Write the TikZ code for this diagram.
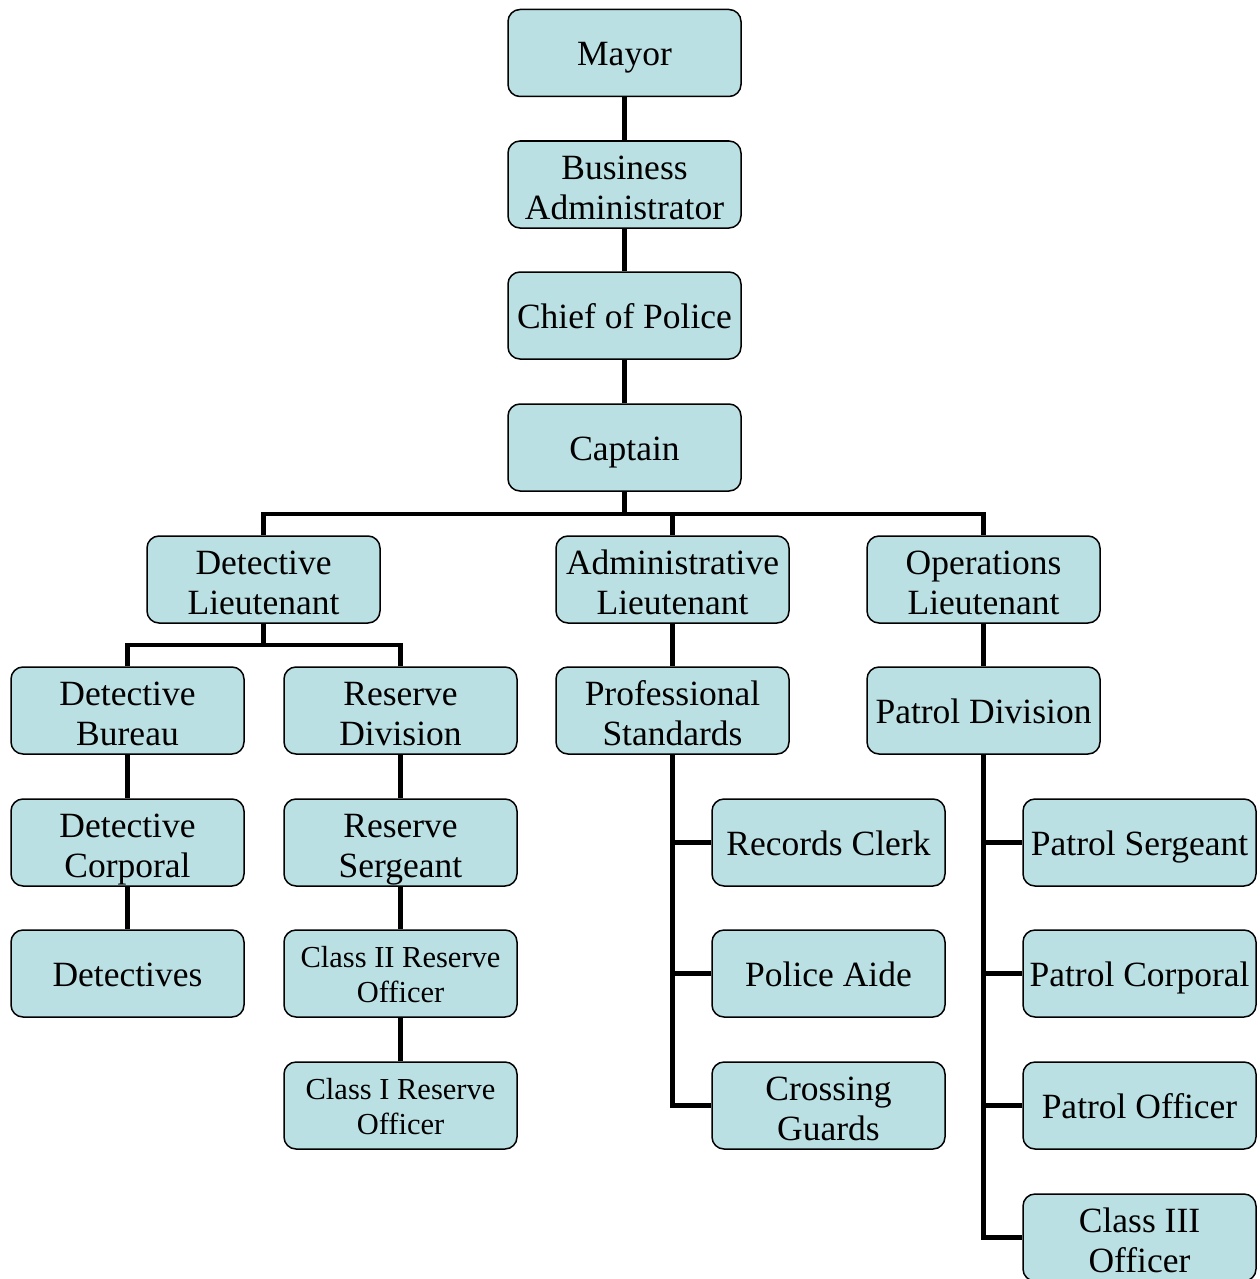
\documentclass[tikz,border=0pt]{standalone}
\usepackage{fontspec}
\setmainfont{Liberation Serif}
\definecolor{boxfill}{RGB}{187,224,227}
\begin{document}
\begin{tikzpicture}[x=1pt,y=-1pt,
  box/.style={draw=black,line width=1.5pt,fill=boxfill,rounded corners=12pt,
    minimum width=233pt,minimum height=87pt,inner sep=0pt,align=center,
    font=\fontsize{35.5}{40}\selectfont,text height=34pt,text depth=9pt},
  box2/.style={box,text height=78pt},
  smallbox/.style={box,font=\fontsize{30.5}{35}\selectfont,text height=66pt},
  conn/.style={line width=4.5pt,draw=black}]
\useasboundingbox (0,0) rectangle (1260,1279);
\fill[white] (0,0) rectangle (1260,1279);
% column 1
\node[box] (mayor) at (624.5,53) {Mayor};
\node[box2] (ba) at (624.5,184.5) {Business\\Administrator};
\node[box] (chief) at (624.5,315.5) {Chief of Police};
\node[box] (cap) at (624.5,447.5) {Captain};
% row 2
\node[box2] (dlt) at (263.5,579.5) {Detective\\Lieutenant};
\node[box2] (alt) at (672.5,579.5) {Administrative\\Lieutenant};
\node[box2] (olt) at (983.5,579.5) {Operations\\Lieutenant};
% row 3
\node[box2] (db) at (127.5,710.5) {Detective\\Bureau};
\node[box2] (rd) at (400.5,710.5) {Reserve\\Division};
\node[box2] (ps) at (672.5,710.5) {Professional\\Standards};
\node[box] (pd) at (983.5,710.5) {Patrol Division};
% row 4
\node[box2] (dc) at (127.5,842.5) {Detective\\Corporal};
\node[box2] (rs) at (400.5,842.5) {Reserve\\Sergeant};
\node[box] (rc) at (828.5,842.5) {Records Clerk};
\node[box] (psg) at (1139.5,842.5) {Patrol Sergeant};
% row 5
\node[box] (det) at (127.5,973.5) {Detectives};
\node[smallbox] (c2) at (400.5,973.5) {Class II Reserve\\Officer};
\node[box] (pa) at (828.5,973.5) {Police Aide};
\node[box] (pc) at (1139.5,973.5) {Patrol Corporal};
% row 6
\node[smallbox] (c1) at (400.5,1105.5) {Class I Reserve\\Officer};
\node[box2] (cg) at (828.5,1105.5) {Crossing\\Guards};
\node[box] (po) at (1139.5,1105.5) {Patrol Officer};
% row 7
\node[box2] (c3) at (1139.5,1237.5) {Class III\\Officer};
% connectors
\coordinate (b1) at (624.5,514);
\coordinate (b2) at (263.5,645);
\draw[conn] (mayor) -- (ba);
\draw[conn] (ba) -- (chief);
\draw[conn] (chief) -- (cap);
\draw[conn] (cap) -- (b1);
\draw[conn] (dlt.north) |- (b1) -| (olt.north);
\draw[conn] (b1) -| (alt.north);
\draw[conn] (dlt) -- (b2);
\draw[conn] (db.north) |- (b2) -| (rd.north);
\draw[conn] (db) -- (dc);
\draw[conn] (dc) -- (det);
\draw[conn] (rd) -- (rs);
\draw[conn] (rs) -- (c2);
\draw[conn] (c2) -- (c1);
\draw[conn] (alt) -- (ps);
\draw[conn] (olt) -- (pd);
\draw[conn] (ps.south) |- (cg.west);
\draw[conn] (rc.west) -- (rc.west -| ps.south);
\draw[conn] (pa.west) -- (pa.west -| ps.south);
\draw[conn] (pd.south) |- (c3.west);
\draw[conn] (psg.west) -- (psg.west -| pd.south);
\draw[conn] (pc.west) -- (pc.west -| pd.south);
\draw[conn] (po.west) -- (po.west -| pd.south);
\end{tikzpicture}
\end{document}
